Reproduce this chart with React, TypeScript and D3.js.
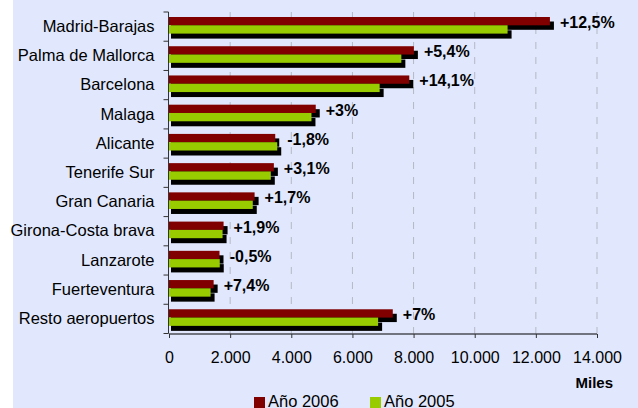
import React, { useRef, useEffect } from 'react';
import * as d3 from 'd3';

const airports = [
  'Madrid-Barajas',
  'Palma de Mallorca',
  'Barcelona',
  'Malaga',
  'Alicante',
  'Tenerife Sur',
  'Gran Canaria',
  'Girona-Costa brava',
  'Lanzarote',
  'Fuerteventura',
  'Resto aeropuertos',
];
const year2006 = [12460, 8010, 7860, 4800, 3475, 3430, 2800, 1785, 1652, 1460, 7320];
const year2005 = [11075, 7600, 6890, 4660, 3540, 3330, 2740, 1752, 1660, 1360, 6840];
const changeLabels = ['+12,5%', '+5,4%', '+14,1%', '+3%', '-1,8%', '+3,1%', '+1,7%', '+1,9%', '-0,5%', '+7,4%', '+7%'];
const xTicks = [0, 2000, 4000, 6000, 8000, 10000, 12000, 14000];
const seriesNames = ['Año 2006', 'Año 2005'];
const seriesColors = ['#800000', '#99CC00'];

const W = 638;
const H = 408;
const FONT = 'Liberation Sans, Arial, Helvetica, sans-serif';

function App() {
  const svgRef = useRef<SVGSVGElement>(null);

  useEffect(() => {
    const svgEl = d3.select(svgRef.current);
    svgEl.selectAll('*').remove();

    svgEl.append('rect').attr('width', W).attr('height', H).attr('fill', '#ffffff');
    svgEl.append('rect').attr('x', 13).attr('width', W - 13).attr('height', H).attr('fill', '#E1E8FD');

    const xScale = d3.scaleLinear().domain([0, 14000]).range([169, 597]);
    const yScale = d3.scaleBand().domain(airports).range([12, 333.5]);

    const locale = d3.formatLocale({ decimal: ',', thousands: '.', grouping: [3], currency: ['', ''] });
    const fmt = locale.format(',');

    // dashed gridlines
    svgEl
      .append('g')
      .selectAll('line')
      .data(xTicks.slice(1))
      .enter()
      .append('line')
      .attr('x1', (d) => xScale(d))
      .attr('x2', (d) => xScale(d))
      .attr('y1', 12)
      .attr('y2', 333.5)
      .attr('stroke', '#b4b8c4')
      .attr('stroke-width', 1)
      .attr('stroke-dasharray', '7,8');

    const barH = 8.3;
    const rows = airports.map((name, i) => ({ name, v6: year2006[i], v5: year2005[i], label: changeLabels[i] }));

    const g = svgEl.append('g');
    rows.forEach((r) => {
      const top = yScale(r.name) as number;
      const y6 = top + 5;
      const y5 = y6 + barH;
      const x0 = xScale(0);
      // shadows
      g.append('rect')
        .attr('x', x0 + 2)
        .attr('y', y6 + 4.5)
        .attr('width', xScale(r.v6) - x0 + 2)
        .attr('height', barH)
        .attr('fill', '#000');
      g.append('rect')
        .attr('x', x0 + 2)
        .attr('y', y5 + 5)
        .attr('width', xScale(r.v5) - x0 + 2)
        .attr('height', barH)
        .attr('fill', '#000');
      g.append('rect')
        .attr('x', x0)
        .attr('y', y6)
        .attr('width', xScale(r.v6) - x0)
        .attr('height', barH)
        .attr('fill', seriesColors[0]);
      g.append('rect')
        .attr('x', x0)
        .attr('y', y5)
        .attr('width', xScale(r.v5) - x0)
        .attr('height', barH)
        .attr('fill', seriesColors[1]);
      g.append('text')
        .attr('x', xScale(Math.max(r.v6, r.v5)) + 10)
        .attr('y', top + 16)
        .attr('font-family', FONT)
        .attr('font-weight', 'bold')
        .attr('font-size', 16)
        .attr('fill', '#000')
        .text(r.label);
    });

    // y axis
    const yAxis = d3.axisLeft(yScale).tickSize(0).tickPadding(14);
    const yAxisGroup = svgEl.append('g').attr('transform', 'translate(168.5,0)').attr('font-family', FONT).call(yAxis);
    yAxisGroup.attr('font-family', FONT);
    yAxisGroup.select('.domain').attr('stroke', '#333').attr('d', 'M0,12V333.5');
    yAxisGroup.selectAll('text').attr('font-family', FONT).attr('font-size', 16.5).attr('fill', '#000');
    const yEdges = d3.range(airports.length + 1).map((i) => 12 + i * yScale.step());
    svgEl
      .append('g')
      .selectAll('line')
      .data(yEdges)
      .enter()
      .append('line')
      .attr('x1', 163.5)
      .attr('x2', 168.5)
      .attr('y1', (d) => d)
      .attr('y2', (d) => d)
      .attr('stroke', '#333');

    // x axis
    const xAxis = d3.axisBottom(xScale).tickValues(xTicks).tickSize(4).tickPadding(14).tickFormat((d) => fmt(d as number));
    const xAxisGroup = svgEl.append('g').attr('transform', 'translate(0,334)').call(xAxis);
    xAxisGroup.attr('font-family', FONT);
    xAxisGroup.select('.domain').attr('stroke', '#000').attr('d', 'M169,0H597');
    xAxisGroup.selectAll('line').attr('stroke', '#333');
    xAxisGroup.selectAll('text').attr('font-family', FONT).attr('font-size', 16).attr('fill', '#000');

    svgEl
      .append('text')
      .attr('x', 613)
      .attr('y', 387.5)
      .attr('text-anchor', 'end')
      .attr('font-family', FONT)
      .attr('font-weight', 'bold')
      .attr('font-size', 15)
      .text('Miles');

    // legend
    const legendX = [254, 370];
    const legend = svgEl
      .append('g')
      .selectAll('g')
      .data(seriesNames)
      .enter()
      .append('g')
      .attr('transform', (d, i) => `translate(${legendX[i]},0)`);
    legend
      .append('rect')
      .attr('y', 397)
      .attr('width', 11)
      .attr('height', 11)
      .attr('fill', (d, i) => seriesColors[i]);
    legend
      .append('text')
      .attr('x', 14)
      .attr('y', 406.5)
      .attr('font-family', FONT)
      .attr('font-size', 16.5)
      .text((d) => d);
  }, []);

  return <svg ref={svgRef} width={W} height={H} style={{ position: 'absolute', left: 0, top: 0 }} />;
}

export default App;
